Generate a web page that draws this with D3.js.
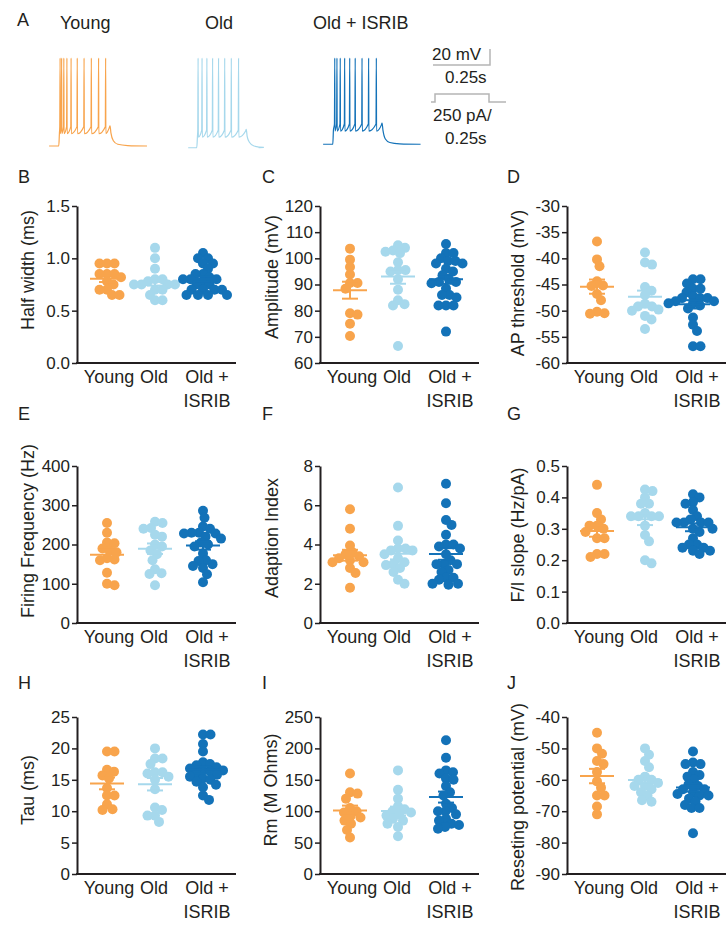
<!DOCTYPE html>
<html>
<head>
<meta charset="utf-8">
<script src="https://cdn.jsdelivr.net/npm/d3@7"></script>
<style>
  body { margin: 0; background: #fff; }
  text { font-family: "Liberation Sans", Arial, sans-serif; fill: #231f20; }
</style>
</head>
<body>
<div id="chart"></div>
<script>
// groups and colours
var groups = ["Young", "Old", "Old + ISRIB"];
var groupColors = ["#f8a44c", "#a6d8ec", "#1372b8"];

// B - half width (ms)
var halfWidthYoung = [0.95, 0.95, 0.95, 0.85, 0.85, 0.85, 0.82, 0.78, 0.75, 0.70, 0.70, 0.65, 0.65];
var halfWidthOld = [1.1, 1.0, 0.9, 0.8, 0.8, 0.78, 0.75, 0.75, 0.75, 0.75, 0.7, 0.7, 0.65, 0.6, 0.6];
var halfWidthIsrib = [1.05, 1.0, 1.0, 0.95, 0.95, 0.9, 0.85, 0.85, 0.82, 0.8, 0.8, 0.8, 0.78, 0.75, 0.75, 0.7, 0.7, 0.7, 0.7, 0.65, 0.65, 0.65, 0.65];
var halfWidthTicks = [0, 0.5, 1.0, 1.5];

// C - amplitude (mV)
var amplitudeYoung = [103.7, 99.5, 96.7, 93.8, 90.6, 90.6, 88.4, 79, 78.5, 75, 70.3];
var amplitudeOld = [105, 104, 103, 102.5, 102, 98.5, 95.5, 95.5, 95, 92, 88, 84, 82.5, 82, 66.5];
var amplitudeIsrib = [105.5, 102, 102, 100, 99, 99, 98, 98, 96, 95, 93.5, 92, 91, 91, 90.5, 88.5, 86, 86, 85, 82, 82, 82, 72];
var amplitudeTicks = [60, 70, 80, 90, 100, 110, 120];

// D - AP threshold (mV)
var thresholdYoung = [-36.8, -40.2, -41.5, -44.4, -45.2, -45.3, -46.8, -48, -50.2, -50.5, -50.6];
var thresholdOld = [-38.9, -40.8, -41.2, -45.5, -46.2, -47, -48.7, -49.2, -49.2, -49.8, -50, -51, -51.7, -53.5];
var thresholdIsrib = [-44, -44, -44.8, -45.8, -45.8, -46.5, -47.2, -47.6, -47.6, -47.6, -48.2, -48.2, -48.6, -48.6, -49, -49.6, -51.3, -52.7, -53.9, -56.8, -56.8];
var thresholdTicks = [-60, -55, -50, -45, -40, -35, -30];

// E - firing frequency (Hz)
var firingYoung = [255, 230, 205, 203, 190, 185, 180, 165, 162, 160, 128, 100, 96];
var firingOld = [258, 255, 242, 240, 225, 220, 200, 195, 185, 175, 160, 127, 125, 137, 96];
var firingIsrib = [286, 268, 246, 240, 230, 230, 228, 228, 220, 215, 205, 200, 195, 177, 160, 158, 150, 145, 140, 124, 104];
var firingTicks = [0, 100, 200, 300, 400];

// F - adaption index
var adaptionYoung = [5.8, 4.8, 3.95, 3.6, 3.5, 3.4, 3.3, 3.2, 3.1, 3.1, 2.8, 2.55, 1.8];
var adaptionOld = [6.9, 4.95, 4.2, 3.8, 3.8, 3.7, 3.7, 3.5, 3.3, 3.1, 3.0, 2.95, 2.8, 2.6, 2.2, 2.0];
var adaptionIsrib = [7.1, 6.1, 5.25, 5.0, 4.5, 4.0, 4.0, 3.9, 3.8, 3.5, 3.2, 3.0, 3.0, 3.0, 2.7, 2.6, 2.3, 2.3, 2.2, 2.0, 2.0, 1.95];
var adaptionTicks = [0, 2, 4, 6, 8];

// G - F/I slope (Hz/pA)
var slopeYoung = [0.44, 0.35, 0.33, 0.31, 0.31, 0.30, 0.29, 0.27, 0.27, 0.22, 0.22, 0.21];
var slopeOld = [0.425, 0.42, 0.40, 0.38, 0.38, 0.35, 0.34, 0.34, 0.34, 0.34, 0.31, 0.28, 0.26, 0.2, 0.19];
var slopeIsrib = [0.41, 0.40, 0.385, 0.38, 0.36, 0.34, 0.33, 0.32, 0.32, 0.32, 0.32, 0.30, 0.30, 0.29, 0.27, 0.25, 0.25, 0.24, 0.24, 0.23, 0.23, 0.22];
var slopeTicks = [0, 0.1, 0.2, 0.3, 0.4, 0.5];

// H - tau (ms)
var tauYoung = [19.5, 19.5, 16.6, 16.3, 15.7, 15.2, 13.7, 12.5, 12.5, 11.1, 10.3, 10.2];
var tauOld = [20, 18.4, 18.4, 17.5, 16.2, 16.2, 15.5, 16, 15, 13.5, 10.6, 10.2, 9.3, 9.3, 8.3];
var tauIsrib = [22.2, 22.2, 20.7, 19.5, 17.8, 17.5, 17.3, 17.0, 16.8, 16.5, 16.5, 16.3, 16.0, 15.8, 15.5, 15.2, 15.0, 14.7, 14.2, 13.8, 12.5, 11.8];
var tauTicks = [0, 5, 10, 15, 20, 25];

// I - Rm (M Ohms)
var rmYoung = [160, 130, 128, 120, 105, 100, 98, 92, 90, 85, 80, 70, 58];
var rmOld = [165, 134, 120, 108, 103, 100, 98, 95, 93, 88, 85, 80, 75, 60];
var rmIsrib = [213, 185, 165, 162, 160, 152, 150, 140, 130, 125, 112, 105, 100, 100, 95, 88, 85, 80, 78, 75, 72];
var rmTicks = [0, 50, 100, 150, 200, 250];

// J - reseting potential (mV)
var resetYoung = [-45, -50, -51.7, -54, -55, -57.5, -60.5, -62.5, -65, -65, -68.5, -71];
var resetOld = [-50, -52, -54, -56, -59, -60, -60, -61, -62, -62, -63, -64, -65, -66.5, -67];
var resetIsrib = [-51, -54.5, -55, -55, -57.5, -58.5, -59, -60, -61.5, -62, -63, -63, -64, -64.5, -65, -65, -66, -67, -68, -69, -69, -77];
var resetTicks = [-90, -80, -70, -60, -50, -40];

// A - example traces: spike times (ms after step onset)
var spikesYoung = [5, 12, 22, 36, 55, 83, 114, 147, 180, 212];
var spikesOld = [5, 23, 45, 71, 98, 126, 156, 189];
var spikesIsrib = [8, 18, 33, 53, 76, 101, 132, 162, 197];
var traceRest = [-70, -72, -68];       // mV
var tracePlateau = [-53, -57, -50];    // mV
var traceStepEnd = [232, 224, 223];    // ms
var traceStart = [-45, -40, -45];      // ms
var traceEnd = [400, 280, 398];        // ms
var spikePeak = 30;                    // mV

var svg = d3.select("#chart").append("svg")
  .attr("width", 728)
  .attr("height", 942);

var axisColor = "#231f20";

// ---------- panel A ----------
svg.append("text").attr("x", 17).attr("y", 26).style("font-size", "18px").text("A");
var traceTitleX = [60, 205, 313];
groups.forEach(function(g, i) {
  svg.append("text").attr("x", traceTitleX[i]).attr("y", 29).style("font-size", "18px").text(g);
});

var tScale = d3.scaleLinear().domain([0, 100]).range([0, 22]);
var vScale = d3.scaleLinear().domain([-70, 30]).range([146, 58]);
var traceOrigin = [59, 197, 333];

[spikesYoung, spikesOld, spikesIsrib].forEach(function(spikes, i) {
  var rest = traceRest[i], pl = tracePlateau[i], end = traceStepEnd[i];
  var pts = [[traceStart[i], rest], [-1, rest], [2, pl - 2]];
  spikes.forEach(function(s) {
    pts.push([s - 1.5, pl + 5], [s, spikePeak], [s + 1, pl - 3]);
  });
  pts.push([end - 3, pl + 4], [end, pl + 6], [end + 4, pl - 2],
           [end + 15, rest + 6], [end + 35, rest + 2], [end + 80, rest + 0.5], [traceEnd[i], rest]);
  var line = d3.line()
    .x(function(d) { return traceOrigin[i] + tScale(d[0]); })
    .y(function(d) { return vScale(d[1]); })
    .curve(d3.curveMonotoneX);
  svg.append("path").datum(pts)
    .attr("d", line)
    .attr("fill", "none")
    .attr("stroke", groupColors[i])
    .attr("stroke-width", 1.2);
});

// scale bars
var barColor = "#b5b5b5";
svg.append("path").attr("d", "M490,49 V65 H433").attr("fill", "none").attr("stroke", barColor).attr("stroke-width", 1.5);
svg.append("path").attr("d", "M431,102 H435 V94 H489 V102 H506").attr("fill", "none").attr("stroke", barColor).attr("stroke-width", 1.5);
svg.append("text").attr("x", 432).attr("y", 60).style("font-size", "17px").text("20 mV");
svg.append("text").attr("x", 445).attr("y", 83).style("font-size", "17px").text("0.25s");
svg.append("text").attr("x", 433).attr("y", 121).style("font-size", "17px").text("250 pA/");
svg.append("text").attr("x", 445).attr("y", 144).style("font-size", "17px").text("0.25s");

// ---------- scatter panels ----------
var colX = [77, 320, 567];
var rowTop = [206, 466, 717];
var plotH = 157, plotW = 159;
var letterX = [18, 262, 507];
var letterY = [183, 420, 689];

var panels = [
  { letter: "B", label: "Half width (ms)", values: [halfWidthYoung, halfWidthOld, halfWidthIsrib], ticks: halfWidthTicks, fmt: ".1f", lx: 28, ly: 270 },
  { letter: "C", label: "Amplitude (mV)", values: [amplitudeYoung, amplitudeOld, amplitudeIsrib], ticks: amplitudeTicks, fmt: "d", lx: 272, ly: 277 },
  { letter: "D", label: "AP threshold (mV)", values: [thresholdYoung, thresholdOld, thresholdIsrib], ticks: thresholdTicks, fmt: "d", lx: 518, ly: 283 },
  { letter: "E", label: "Firing Frequency (Hz)", values: [firingYoung, firingOld, firingIsrib], ticks: firingTicks, fmt: "d", lx: 28, ly: 531 },
  { letter: "F", label: "Adaption Index", values: [adaptionYoung, adaptionOld, adaptionIsrib], ticks: adaptionTicks, fmt: "d", lx: 272, ly: 538 },
  { letter: "G", label: "F/I slope (Hz/pA)", values: [slopeYoung, slopeOld, slopeIsrib], ticks: slopeTicks, fmt: ".1f", lx: 518, ly: 535 },
  { letter: "H", label: "Tau (ms)", values: [tauYoung, tauOld, tauIsrib], ticks: tauTicks, fmt: "d", lx: 28, ly: 790 },
  { letter: "I", label: "Rm (M Ohms)", values: [rmYoung, rmOld, rmIsrib], ticks: rmTicks, fmt: "d", lx: 271, ly: 790 },
  { letter: "J", label: "Reseting potential (mV)", values: [resetYoung, resetOld, resetIsrib], ticks: resetTicks, fmt: "d", lx: 518, ly: 797 }
];

// simple beeswarm: place each dot as close to the centre as it fits
// (dots may overlap a little, like the original)
function swarm(vals, y, cx, gap) {
  var pts = vals.map(function(v) { return { v: v, y: y(v) }; });
  pts.sort(function(a, b) { return a.y - b.y; });
  var placed = [];
  pts.forEach(function(p) {
    for (var k = 0; k < 400; k++) {
      var off = (k % 2 ? 1 : -1) * Math.ceil(k / 2) * 0.5;
      var x = cx + off;
      var ok = placed.every(function(q) {
        var dx = q.x - x, dy = q.y - p.y;
        return dx * dx + dy * dy >= gap * gap;
      });
      if (ok) { p.x = x; placed.push(p); break; }
    }
  });
  return pts;
}

var labelNudge = [2, -1, 4];

panels.forEach(function(p, idx) {
  var col = idx % 3, row = Math.floor(idx / 3);
  var x0 = colX[col], top = rowTop[row], bottom = top + plotH;

  var y = d3.scaleLinear()
    .domain([p.ticks[0], p.ticks[p.ticks.length - 1]])
    .range([bottom, top]);
  var x = d3.scalePoint().domain(groups).range([x0 + 30, x0 + 126]);
  var numFmt = d3.format(p.fmt);

  var g = svg.append("g");

  // letter
  g.append("text").attr("x", letterX[col]).attr("y", letterY[row])
    .style("font-size", "18px").text(p.letter);

  // y axis
  var yAxis = d3.axisLeft(y)
    .tickValues(p.ticks)
    .tickSize(5)
    .tickSizeOuter(0)
    .tickPadding(2)
    .tickFormat(function(d) { return numFmt(d).replace("\u2212", "-"); });
  var ya = g.append("g").attr("transform", "translate(" + x0 + ",0)").call(yAxis);
  ya.select(".domain").attr("stroke", axisColor).attr("stroke-width", 2);
  ya.selectAll(".tick line").attr("stroke", axisColor).attr("stroke-width", 1.5);
  ya.selectAll(".tick text").style("font-size", "17px").attr("fill", axisColor)
    .style("font-family", "'Liberation Sans', Arial, sans-serif");

  // x axis line
  g.append("line")
    .attr("x1", x0 - 1).attr("x2", x0 + plotW)
    .attr("y1", bottom).attr("y2", bottom)
    .attr("stroke", axisColor).attr("stroke-width", 2);

  // x labels
  groups.forEach(function(name, i) {
    var lx = x(name) + labelNudge[i];
    if (name === "Old + ISRIB") {
      g.append("text").attr("x", lx).attr("y", bottom + 20).attr("text-anchor", "middle")
        .style("font-size", "18px").text("Old +");
      g.append("text").attr("x", lx).attr("y", bottom + 44).attr("text-anchor", "middle")
        .style("font-size", "18px").text("ISRIB");
    } else {
      g.append("text").attr("x", lx).attr("y", bottom + 20).attr("text-anchor", "middle")
        .style("font-size", "18px").text(name);
    }
  });

  // y label
  g.append("text")
    .attr("transform", "translate(" + p.lx + "," + p.ly + ") rotate(-90)")
    .attr("text-anchor", "middle")
    .attr("dy", "0.35em")
    .style("font-size", "18px")
    .text(p.label);

  // dots
  p.values.forEach(function(vals, i) {
    var cx = x(groups[i]);
    var pts = swarm(vals, y, cx, 7.2);
    g.selectAll(null).data(pts).enter().append("circle")
      .attr("cx", function(d) { return d.x; })
      .attr("cy", function(d) { return d.y; })
      .attr("r", 5)
      .attr("fill", groupColors[i]);
  });

  // mean and SEM
  p.values.forEach(function(vals, i) {
    var cx = x(groups[i]);
    var m = d3.mean(vals);
    var sem = d3.deviation(vals) / Math.sqrt(vals.length);
    var c = groupColors[i];
    g.append("line").attr("x1", cx - 17).attr("x2", cx + 17)
      .attr("y1", y(m)).attr("y2", y(m)).attr("stroke", c).attr("stroke-width", 2);
    g.append("line").attr("x1", cx).attr("x2", cx)
      .attr("y1", y(m - sem)).attr("y2", y(m + sem)).attr("stroke", c).attr("stroke-width", 2);
    [m - sem, m + sem].forEach(function(v) {
      g.append("line").attr("x1", cx - 8).attr("x2", cx + 8)
        .attr("y1", y(v)).attr("y2", y(v)).attr("stroke", c).attr("stroke-width", 2);
    });
  });
});
</script>
</body>
</html>
